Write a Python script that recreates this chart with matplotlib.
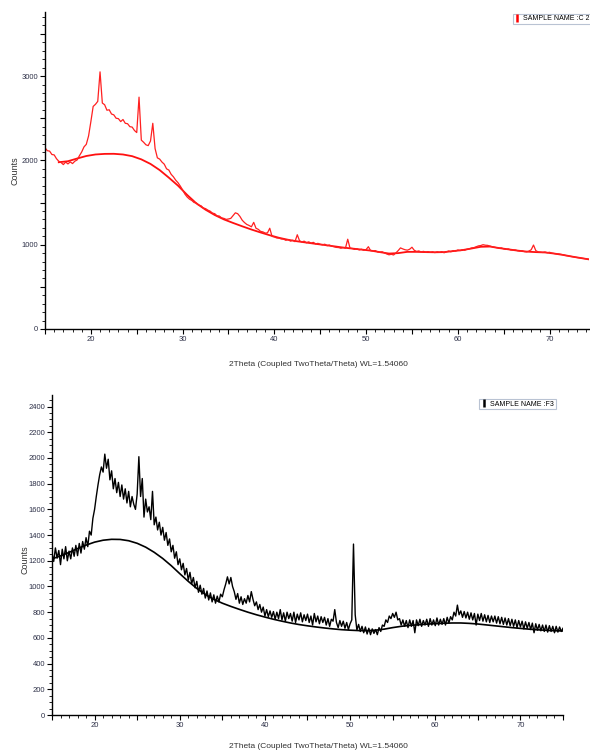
import numpy as np
import matplotlib
matplotlib.use("Agg")
import matplotlib.pyplot as plt
from matplotlib.lines import Line2D
from matplotlib.ticker import MultipleLocator, FuncFormatter

plt.rcParams['font.family'] = ['Liberation Sans', 'DejaVu Sans']

# ---------------- data: sample C 2 (top) ----------------
c2_start, c2_step = 15.0, 0.25
c2_counts = [
    2150, 2115, 2110, 2070, 2065, 2020, 1990, 1975,
    1950, 1980, 1958, 1982, 1962, 1990, 2005, 2055,
    2100, 2160, 2190, 2290, 2460, 2640, 2665, 2700,
    3050, 2680, 2660, 2595, 2600, 2550, 2540, 2500,
    2495, 2460, 2485, 2440, 2435, 2400, 2395, 2355,
    2330, 2750, 2240, 2215, 2185, 2175, 2230, 2440,
    2140, 2030, 2015, 1980, 1955, 1900, 1885, 1835,
    1805, 1765, 1735, 1695, 1650, 1600, 1565, 1540,
    1525, 1500, 1495, 1470, 1462, 1435, 1428, 1410,
    1398, 1375, 1368, 1342, 1340, 1318, 1312, 1300,
    1305, 1312, 1345, 1378, 1368, 1335, 1290, 1262,
    1240, 1228, 1212, 1265, 1195, 1182, 1158, 1152,
    1138, 1140, 1195, 1098, 1092, 1080, 1078, 1068,
    1066, 1052, 1062, 1042, 1052, 1036, 1118, 1046,
    1032, 1042, 1022, 1034, 1018, 1028, 1008, 1016,
    1004, 998, 1006, 988, 996, 982, 976, 968,
    966, 958, 966, 958, 1065, 958, 955, 944,
    952, 938, 946, 934, 942, 976, 928, 926,
    930, 914, 910, 916, 902, 890, 880, 886,
    878, 902, 930, 962, 950, 940, 935, 946,
    970, 934, 920, 926, 914, 921, 912, 918,
    910, 916, 906, 916, 909, 918, 904, 915,
    925, 916, 930, 924, 937, 930, 941, 934,
    946, 950, 961, 965, 976, 986, 990, 1000,
    994, 992, 984, 976, 970, 964, 958, 962,
    950, 944, 950, 938, 936, 938, 929, 924,
    928, 918, 915, 924, 940, 996, 930, 915,
    912, 908, 913, 905, 910, 900, 895, 890,
    890, 885, 880, 872, 868, 862, 858, 852,
    848, 845, 840, 835, 832, 828, 822,
]
c2_bg_start, c2_bg_step = 16.5, 1.0
c2_background = [
    1978, 1990, 2022, 2052, 2070, 2077, 2078, 2070, 2050, 2012,
    1958, 1885, 1795, 1700, 1590, 1490, 1415, 1352, 1300, 1258,
    1218, 1180, 1145, 1112, 1082, 1058, 1040, 1025, 1010, 996,
    981, 966, 954, 942, 930, 912, 895, 900, 915, 915,
    912, 910, 912, 924, 936, 955, 975, 978, 960, 945,
    930, 918, 912, 908, 895, 878, 858, 840, 822,
]

# ---------------- data: sample F3 (bottom) ----------------
f3_start, f3_step = 15.0, 0.2
f3_counts = [
    1260, 1195, 1300, 1220, 1280, 1170, 1290, 1215, 1310, 1200,
    1275, 1215, 1300, 1235, 1320, 1240, 1335, 1260, 1350, 1290,
    1380, 1310, 1430, 1400, 1530, 1600, 1700, 1790, 1870, 1930,
    1890, 2030, 1920, 1990, 1830, 1900, 1760, 1840, 1730, 1810,
    1700, 1790, 1680, 1760, 1650, 1740, 1620, 1700, 1640, 1600,
    1720, 2010, 1700, 1840, 1540, 1680, 1580, 1620, 1520, 1740,
    1480, 1540, 1440, 1500, 1400, 1460, 1360, 1420, 1320, 1370,
    1270, 1320, 1220, 1270, 1170, 1215, 1130, 1180, 1090, 1140,
    1050, 1110, 1020, 1070, 990, 1040, 955, 1010, 940, 985,
    910, 965, 895, 950, 880, 935, 870, 925, 880, 940,
    920, 975, 1020, 1075, 1020, 1070, 1000, 960, 900, 945,
    870, 920, 860, 905, 870, 930, 880, 960, 900, 850,
    880, 820, 860, 800, 840, 770, 820, 765, 810, 760,
    805, 745, 800, 750, 820, 740, 795, 730, 800, 750,
    790, 730, 800, 720, 785, 740, 795, 725, 780, 735,
    785, 720, 770, 700, 790, 725, 770, 710, 765, 720,
    760, 700, 750, 690, 745, 730, 820, 720, 680, 735,
    690, 730, 675, 720, 665, 710, 740, 1330, 780, 660,
    705, 650, 690, 640, 685, 630, 675, 625, 670, 635,
    665, 625, 680, 650, 700, 690, 740, 720, 770, 750,
    790, 760, 800, 740, 750, 700, 740, 690, 735, 680,
    740, 690, 735, 640, 740, 695, 745, 690, 735, 700,
    745, 690, 750, 700, 740, 695, 755, 700, 745, 705,
    750, 700, 760, 715, 765, 740, 800, 770, 855, 780,
    810, 760, 805, 755, 800, 745, 795, 740, 790, 700,
    785, 735, 790, 730, 780, 725, 775, 720, 770, 725,
    770, 715, 765, 710, 760, 705, 755, 700, 750, 695,
    745, 690, 740, 680, 735, 685, 730, 670, 725, 675,
    720, 665, 715, 640, 710, 660, 705, 655, 700, 650,
    700, 645, 695, 650, 690, 640, 690, 645, 685, 650,
    675,
]
f3_bg_start, f3_bg_step = 15.0, 1.0
f3_background = [
    1215, 1238, 1265, 1295, 1322, 1345, 1360, 1367, 1366, 1356,
    1336, 1306, 1266, 1218, 1162, 1100, 1040, 985, 938, 900,
    870, 845, 822, 800, 780, 762, 745, 730, 716, 704,
    694, 685, 677, 670, 664, 660, 657, 656, 660, 668,
    680, 690, 697, 702, 707, 711, 714, 716, 716, 713,
    708, 701, 694, 687, 680, 674, 668, 663, 659, 656,
    654,
]

x_label = "2Theta (Coupled TwoTheta/Theta) WL=1.54060"
y_label = "Counts"
legend_c2 = "SAMPLE NAME :C 2"
legend_f3 = "SAMPLE NAME :F3"


def grid(start, step, values):
    return start + step * np.arange(len(values))


W, H = 590, 755
fig = plt.figure(figsize=(W / 100, H / 100), dpi=100)


def ax_rect(l, t, r, b):
    return [l / W, 1 - b / H, (r - l) / W, (b - t) / H]


tick_col = '#2e3148'


def style_axes(ax, xlim, ylim, ymajor, ylabel_every, yminor):
    ax.set_xlim(*xlim)
    ax.set_ylim(*ylim)
    for s in ('top', 'right'):
        ax.spines[s].set_visible(False)
    for s in ('left', 'bottom'):
        ax.spines[s].set_linewidth(1.0)
        ax.spines[s].set_color('black')
    ax.xaxis.set_major_locator(MultipleLocator(5))
    ax.xaxis.set_minor_locator(MultipleLocator(1))
    ax.xaxis.set_major_formatter(FuncFormatter(
        lambda v, p: f"{int(round(v))}" if abs(v % 10) < 1e-6 else ""))
    ax.yaxis.set_major_locator(MultipleLocator(ymajor))
    ax.yaxis.set_minor_locator(MultipleLocator(yminor))
    ax.yaxis.set_major_formatter(FuncFormatter(
        lambda v, p: f"{int(round(v))}" if abs(v % ylabel_every) < 1e-6 else ""))
    ax.tick_params(which='major', direction='out', length=3.5, width=0.8,
                   labelsize=5.5, labelcolor=tick_col, pad=1.5)
    ax.tick_params(which='minor', direction='out', length=2, width=0.6)
    ax.patch.set_alpha(0)


# ---------------- top panel ----------------
ax1 = fig.add_axes(ax_rect(45, 12, 589, 329))
ax1.plot(grid(c2_bg_start, c2_bg_step, c2_background), c2_background,
         color='#ff1010', lw=1.3, solid_joinstyle='round')
ax1.plot(grid(c2_start, c2_step, c2_counts), c2_counts,
         color='#ff2020', lw=0.9)
style_axes(ax1, (15, 74.3), (0, 3760), 500, 1000, 100)
ax1.set_xlabel(x_label, fontsize=6, color='#333333')
ax1.xaxis.set_label_coords((318 - 45) / 544, (329 - 365) / 317)
ax1.xaxis.label.set_va('center')
ax1.set_ylabel(y_label, fontsize=6.5, color='#333333')
ax1.yaxis.set_label_coords((15 - 45) / 544, 0.50)
ax1.yaxis.label.set_va('center')
leg1 = ax1.legend(handles=[Line2D([], [], color='red', marker='|', ls='None',
                                  markersize=6, mew=1.8)],
                  labels=[legend_c2], loc='upper right',
                  bbox_to_anchor=(1.005, 0.995), fontsize=5, frameon=True,
                  fancybox=False, edgecolor='#a8b4c8', handlelength=0.8,
                  handletextpad=0.5, borderpad=0.25, borderaxespad=0)
leg1.get_frame().set_linewidth(0.8)

# ---------------- bottom panel ----------------
ax2 = fig.add_axes(ax_rect(52, 395, 563, 715))
ax2.plot(grid(f3_bg_start, f3_bg_step, f3_background), f3_background,
         color='black', lw=1.2)
ax2.plot(grid(f3_start, f3_step, f3_counts), f3_counts,
         color='black', lw=1.0)
style_axes(ax2, (15, 75), (0, 2490), 200, 200, 50)
ax2.set_xlabel(x_label, fontsize=6, color='#333333')
ax2.xaxis.set_label_coords((318 - 52) / 511, (715 - 747) / 320)
ax2.xaxis.label.set_va('center')
ax2.set_ylabel(y_label, fontsize=6.5, color='#333333')
ax2.yaxis.set_label_coords((25 - 52) / 511, (715 - 560) / 320)
ax2.yaxis.label.set_va('center')
leg2 = ax2.legend(handles=[Line2D([], [], color='black', marker='|', ls='None',
                                  markersize=6, mew=1.8)],
                  labels=[legend_f3], loc='upper right',
                  bbox_to_anchor=(0.986, 0.988), fontsize=5, frameon=True,
                  fancybox=False, edgecolor='#a8b4c8', handlelength=0.8,
                  handletextpad=0.5, borderpad=0.25, borderaxespad=0)
leg2.get_frame().set_linewidth(0.8)

fig.savefig("out.png", dpi=100)
